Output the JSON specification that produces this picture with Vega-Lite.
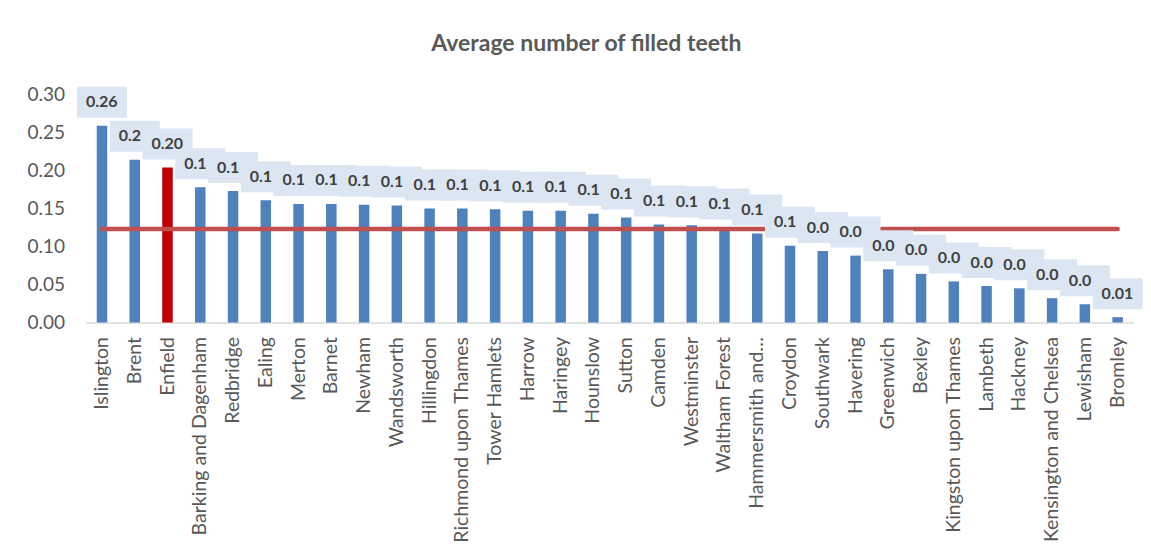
{
  "$schema": "https://vega.github.io/schema/vega-lite/v6.json",
  "width": 1048.4,
  "height": 228,
  "autosize": {"type": "none"},
  "padding": {"left": 85.6, "top": 94.5, "right": 17, "bottom": 233.5},
  "background": "white",
  "title": {"text": "Average number of filled teeth", "font": "Lato", "fontSize": 23, "fontWeight": "bold", "color": "#595959", "anchor": "middle", "dx": -23.5, "dy": -26},
  "config": {"view": {"stroke": null}, "font": "Lato"},
  "data": {"values": [
    {"borough": "Islington", "value": 0.259, "label": "0.26", "london": 0.123},
    {"borough": "Brent", "value": 0.214, "label": "0.2", "london": 0.123},
    {"borough": "Enfield", "value": 0.204, "label": "0.20", "london": 0.123},
    {"borough": "Barking and Dagenham", "value": 0.178, "label": "0.1", "london": 0.123},
    {"borough": "Redbridge", "value": 0.173, "label": "0.1", "london": 0.123},
    {"borough": "Ealing", "value": 0.161, "label": "0.1", "london": 0.123},
    {"borough": "Merton", "value": 0.156, "label": "0.1", "london": 0.123},
    {"borough": "Barnet", "value": 0.156, "label": "0.1", "london": 0.123},
    {"borough": "Newham", "value": 0.155, "label": "0.1", "london": 0.123},
    {"borough": "Wandsworth", "value": 0.154, "label": "0.1", "london": 0.123},
    {"borough": "Hillingdon", "value": 0.15, "label": "0.1", "london": 0.123},
    {"borough": "Richmond upon Thames", "value": 0.15, "label": "0.1", "london": 0.123},
    {"borough": "Tower Hamlets", "value": 0.149, "label": "0.1", "london": 0.123},
    {"borough": "Harrow", "value": 0.147, "label": "0.1", "london": 0.123},
    {"borough": "Haringey", "value": 0.147, "label": "0.1", "london": 0.123},
    {"borough": "Hounslow", "value": 0.143, "label": "0.1", "london": 0.123},
    {"borough": "Sutton", "value": 0.138, "label": "0.1", "london": 0.123},
    {"borough": "Camden", "value": 0.129, "label": "0.1", "london": 0.123},
    {"borough": "Westminster", "value": 0.128, "label": "0.1", "london": 0.123},
    {"borough": "Waltham Forest", "value": 0.125, "label": "0.1", "london": 0.123},
    {"borough": "Hammersmith and Fulham", "value": 0.117, "label": "0.1", "london": 0.123},
    {"borough": "Croydon", "value": 0.101, "label": "0.1", "london": 0.123},
    {"borough": "Southwark", "value": 0.094, "label": "0.0", "london": 0.123},
    {"borough": "Havering", "value": 0.088, "label": "0.0", "london": 0.123},
    {"borough": "Greenwich", "value": 0.07, "label": "0.0", "london": 0.123},
    {"borough": "Bexley", "value": 0.064, "label": "0.0", "london": 0.123},
    {"borough": "Kingston upon Thames", "value": 0.054, "label": "0.0", "london": 0.123},
    {"borough": "Lambeth", "value": 0.048, "label": "0.0", "london": 0.123},
    {"borough": "Hackney", "value": 0.045, "label": "0.0", "london": 0.123},
    {"borough": "Kensington and Chelsea", "value": 0.032, "label": "0.0", "london": 0.123},
    {"borough": "Lewisham", "value": 0.024, "label": "0.0", "london": 0.123},
    {"borough": "Bromley", "value": 0.007, "label": "0.01", "london": 0.123}
  ]},
  "encoding": {
    "x": {
      "field": "borough", "type": "nominal", "sort": null,
      "scale": {"paddingInner": 0, "paddingOuter": 0},
      "axis": {
        "title": null, "labelAngle": -90, "labelFont": "Lato", "labelFontSize": 19.5, "labelColor": "#595959",
        "ticks": false, "domainColor": "#D9D9D9", "domainWidth": 1.3, "labelPadding": 14, "labelLimit": 400, "labelOverlap": false,
        "labelExpr": "datum.label == 'Hammersmith and Fulham' ? 'Hammersmith and…' : datum.label"
      }
    }
  },
  "resolve": {"axis": {"y": "independent"}},
  "layer": [
    {
      "mark": {"type": "bar", "width": 10.5},
      "encoding": {
        "y": {
          "field": "value", "type": "quantitative",
          "scale": {"domain": [0, 0.3], "nice": false, "zero": true},
          "axis": {"title": null, "values": [0, 0.05, 0.1, 0.15, 0.2, 0.25, 0.3], "format": ".2f", "domain": false, "ticks": false, "grid": false, "labelOverlap": false, "labelPadding": 21, "labelFont": "Lato", "labelFontSize": 19, "labelColor": "#595959"}
        },
        "color": {"condition": {"test": "datum.borough === 'Enfield'", "value": "#C00000"}, "value": "#4F81BD"}
      }
    },
    {
      "mark": {"type": "line", "color": "#C0504D", "strokeWidth": 4.6, "strokeCap": "round"},
      "encoding": {"y": {"field": "london", "type": "quantitative", "axis": null}}
    },
    {
      "mark": {"type": "bar", "width": 50, "yOffset": -39, "y2Offset": -8, "color": "#DCE6F2"},
      "encoding": {"y": {"field": "value", "type": "quantitative", "axis": null}, "y2": {"field": "value"}}
    },
    {
      "mark": {"type": "text", "align": "left", "baseline": "middle", "dx": -16, "dy": -23.5, "font": "Lato", "fontWeight": "bold", "fontSize": 16, "color": "#404040"},
      "encoding": {"y": {"field": "value", "type": "quantitative", "axis": null}, "text": {"field": "label"}}
    }
  ]
}
